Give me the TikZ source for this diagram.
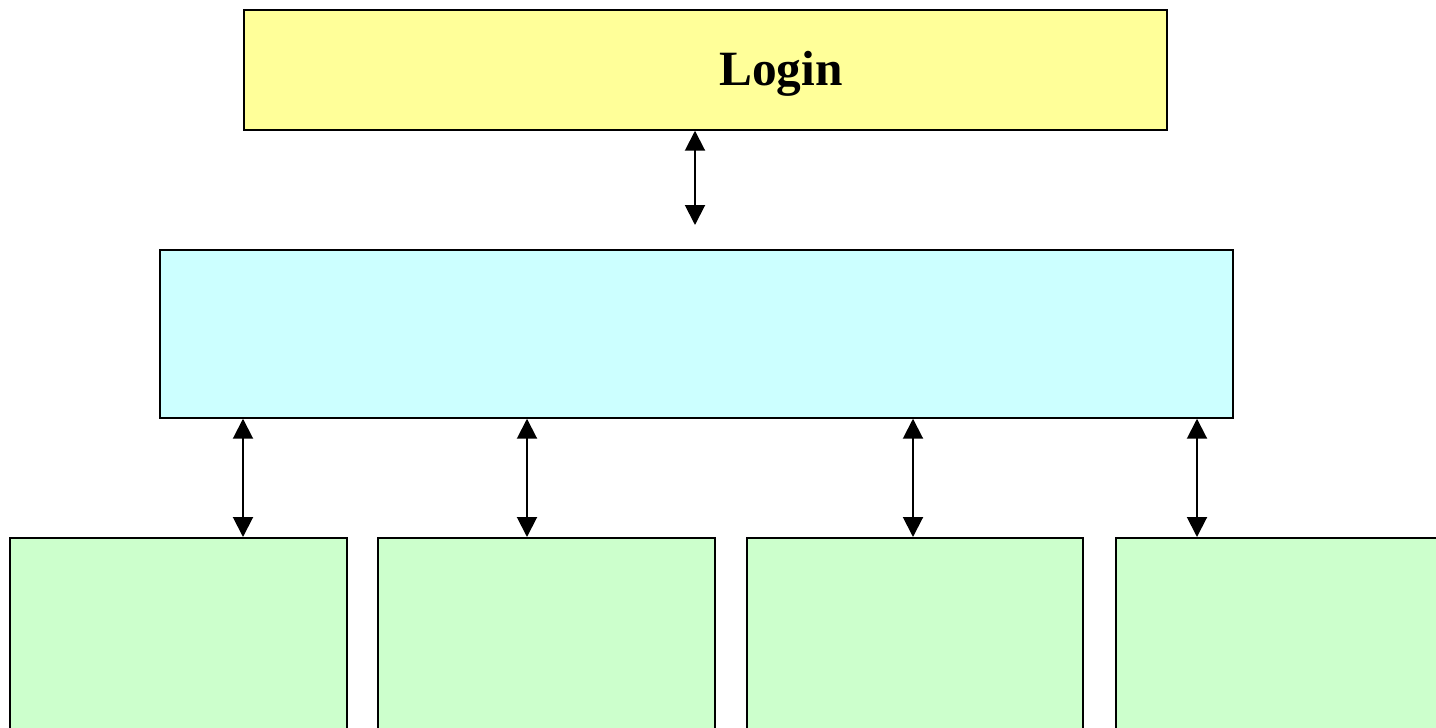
\documentclass[tikz,border=0pt]{standalone}
\usepackage{fontspec}
\setmainfont{Liberation Serif}
\usetikzlibrary{arrows.meta}
\tikzset{
  box/.style={draw, line width=1.3pt, inner sep=0pt, anchor=north west},
  link/.style={line width=1.5pt, {Triangle[length=15pt,width=15pt]}-{Triangle[length=15pt,width=15pt]}}
}
\definecolor{loginyellow}{RGB}{255,255,153}
\definecolor{menucyan}{RGB}{204,255,255}
\definecolor{pagegreen}{RGB}{204,255,204}
\begin{document}
\begin{tikzpicture}[x=0.75pt,y=0.75pt,yscale=-1]
\useasboundingbox (0,0) rectangle (1436,728);
\clip (0,0) rectangle (1436,728);

%Shape: Rectangle [login]
\node [box, fill=loginyellow, minimum width=923*0.75pt, minimum height=120*0.75pt] (login) at (243,9) {};
% Text Node
\node [font=\bfseries\fontsize{37}{40}\selectfont] (logintext) at (781,74) {Login};

%Shape: Rectangle [menu]
\node [box, fill=menucyan, minimum width=1073*0.75pt, minimum height=168*0.75pt] (menu) at (159,249) {};

%Shape: Rectangle [pages]
\node [box, fill=pagegreen, minimum width=337*0.75pt, minimum height=260*0.75pt] (pagea) at (9,537) {};
\node [box, fill=pagegreen, minimum width=337*0.75pt, minimum height=260*0.75pt] (pageb) at (377,537) {};
\node [box, fill=pagegreen, minimum width=336*0.75pt, minimum height=260*0.75pt] (pagec) at (746,537) {};
\node [box, fill=pagegreen, minimum width=400*0.75pt, minimum height=260*0.75pt] (paged) at (1115,537) {};

%Straight Lines
\coordinate (loginend) at (695,225);
\draw [link] (login.south -| loginend) -- (loginend);
\draw [link] (menu.south -| 243,0) -- (pagea.north -| 243,0);
\draw [link] (menu.south -| 527,0) -- (pageb.north -| 527,0);
\draw [link] (menu.south -| 913,0) -- (pagec.north -| 913,0);
\draw [link] (menu.south -| 1197,0) -- (paged.north -| 1197,0);

\end{tikzpicture}
\end{document}
